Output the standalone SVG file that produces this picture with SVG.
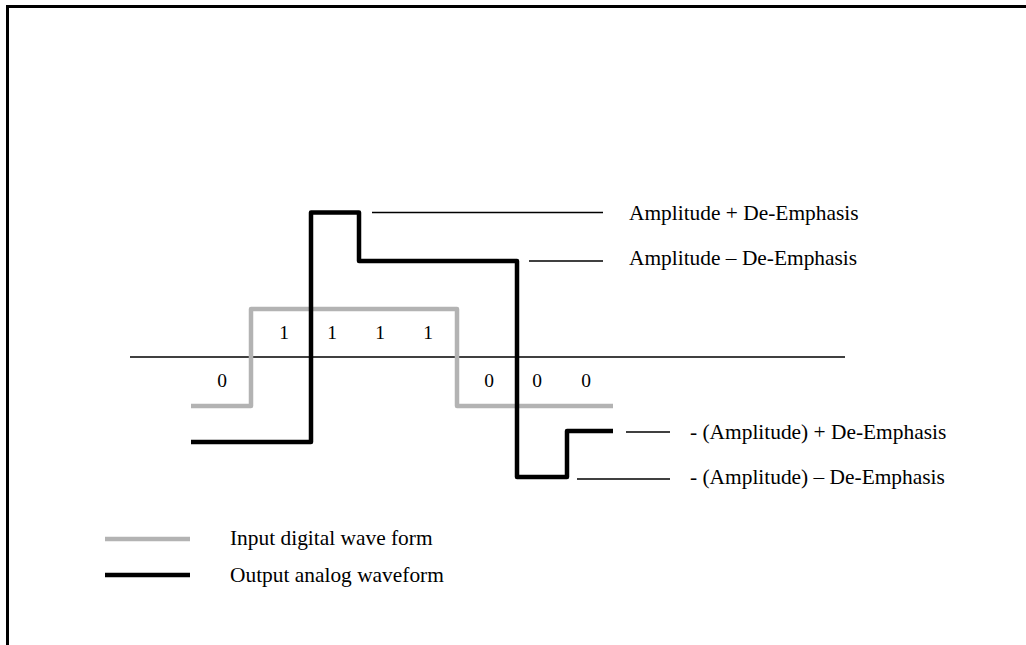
<svg xmlns="http://www.w3.org/2000/svg" width="1026" height="645" viewBox="0 0 1026 645">
<style>
text{font-family:"Liberation Serif","Times New Roman",serif;fill:#000;}
.lbl{font-size:21.4px;}
.dig{font-size:19.5px;text-anchor:middle;}
.thin{stroke:#000;stroke-width:1.5;fill:none;}
.gray{stroke:#b3b3b3;stroke-width:4.5;fill:none;stroke-linejoin:round;}
.blk{stroke:#000;stroke-width:4.5;fill:none;stroke-linejoin:round;}
</style>
<rect width="1026" height="645" fill="#fff"/>
<path d="M7.5,645 V6.5 H1026" fill="none" stroke="#000" stroke-width="3"/>
<g id="axis"><line class="thin" x1="130" y1="357" x2="845" y2="357"/></g>
<g id="input-wave"><path class="gray" d="M191,406 H251 V309 H457 V406 H613"/></g>
<g id="output-wave"><path class="blk" d="M191,442 H311 V212.5 H359 V261 H517 V477 H567 V431 H613"/></g>
<g id="connectors">
<line class="thin" x1="372" y1="212.5" x2="603" y2="212.5"/>
<line class="thin" x1="529" y1="261" x2="603" y2="261"/>
<line class="thin" x1="626" y1="432" x2="670" y2="432"/>
<line class="thin" x1="577" y1="479" x2="670" y2="479"/>
</g>
<g id="bits">
<text class="dig" x="284" y="339">1</text>
<text class="dig" x="332" y="339">1</text>
<text class="dig" x="380" y="339">1</text>
<text class="dig" x="428" y="339">1</text>
<text class="dig" x="222" y="387">0</text>
<text class="dig" x="489" y="387">0</text>
<text class="dig" x="537" y="387">0</text>
<text class="dig" x="586" y="387">0</text>
</g>
<g id="label-amp-plus"><text class="lbl" x="629" y="220">Amplitude + De-Emphasis</text></g>
<g id="label-amp-minus"><text class="lbl" x="629" y="265">Amplitude – De-Emphasis</text></g>
<g id="label-neg-plus"><text class="lbl" x="690" y="439">- (Amplitude) + De-Emphasis</text></g>
<g id="label-neg-minus"><text class="lbl" x="690" y="484">- (Amplitude) – De-Emphasis</text></g>
<g id="legend">
<line class="gray" x1="105" y1="539" x2="190" y2="539" stroke-linecap="butt"/>
<line class="blk" x1="105" y1="575" x2="190" y2="575" stroke-linecap="butt"/>
<text class="lbl" x="230" y="545">Input digital wave form</text>
<text class="lbl" x="230" y="582">Output analog waveform</text>
</g>
</svg>
